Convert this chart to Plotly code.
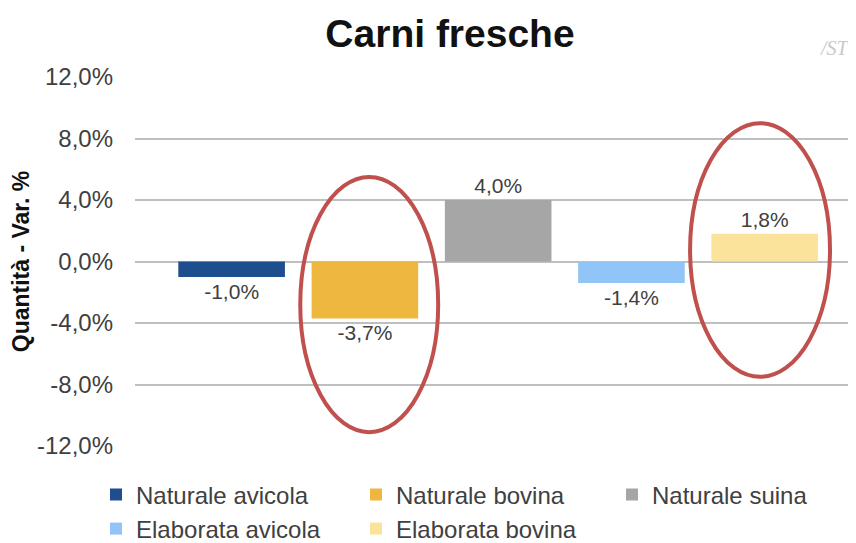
import plotly.graph_objects as go

series = ["Naturale avicola", "Naturale bovina", "Naturale suina", "Elaborata avicola", "Elaborata bovina"]
values = [-1.0, -3.7, 4.0, -1.4, 1.8]
colors = ["#1F4E8F", "#EEB840", "#A6A6A6", "#92C5F7", "#FBE39C"]
category = ["Carni fresche"]
y_ticks = [-12, -8, -4, 0, 4, 8, 12]
y_tick_labels = ["-12,0%", "-8,0%", "-4,0%", "0,0%", "4,0%", "8,0%", "12,0%"]
legend_ids = ["legend", "legend2", "legend3", "legend4", "legend5"]

FONT = "Liberation Sans, Arial, sans-serif"
W, H = 848, 535  # page body has an 8px margin in the 856x543 window

fig = go.Figure()
for name, v, c, lg in zip(series, values, colors, legend_ids):
    fig.add_trace(go.Bar(
        x=category, y=[v], name=name, legend=lg,
        marker=dict(color=c, line=dict(width=0)),
        text=[v], texttemplate="%{y:.1f}%", textposition="outside",
        textfont=dict(family=FONT, size=21, color="#404040"),
        cliponaxis=False,
    ))

# highlight ellipses (decorative)
ell = dict(type="circle", xref="x", yref="y", line=dict(color="#C0504D", width=4), layer="above")
fig.add_shape(**ell, x0=-0.297, x1=-0.090, y0=-11.1, y1=5.5)
fig.add_shape(**ell, x0=0.288, x1=0.498, y0=-7.5, y1=9.0)

leg_common = dict(orientation="h", xref="container", yref="container",
                  xanchor="left", yanchor="middle",
                  font=dict(family=FONT, size=24, color="#404040"),
                  itemwidth=30, bgcolor="rgba(0,0,0,0)")
col_x = [88, 348, 604]
row_y = [487, 521]
legend_layout = {}
for i, lg in enumerate(legend_ids):
    legend_layout[lg] = dict(**leg_common, x=col_x[i % 3] / W, y=1 - row_y[i // 3] / H)

fig.update_layout(
    width=W, height=H,
    paper_bgcolor="white", plot_bgcolor="white",
    separators=",.",
    barmode="group", bargap=0.0, bargroupgap=0.2,
    margin=dict(l=127, r=0, t=69, b=97, autoexpand=False),
    title=dict(text="<b>Carni fresche</b>", x=442 / W, xanchor="center", y=1 - 25 / H, yanchor="middle",
               font=dict(family=FONT, size=39, color="#111111")),
    font=dict(family=FONT, color="#404040"),
    showlegend=True,
    **legend_layout,
    xaxis=dict(range=[-0.545, 0.537], showticklabels=False, showgrid=False, zeroline=False,
               showline=False, ticks="", automargin=False),
    yaxis=dict(range=[-12, 12], tickvals=y_ticks, ticktext=y_tick_labels,
               showgrid=True, gridcolor="#BFBFBF", gridwidth=1.5,
               zeroline=True, zerolinecolor="#BFBFBF", zerolinewidth=1.5,
               showline=False, ticks="", ticklabelstandoff=21, automargin=False,
               tickfont=dict(family=FONT, size=24, color="#404040"),
               title=dict(text="<b>Quantità - Var. %</b>", standoff=10,
                          font=dict(family=FONT, size=23, color="#111111"))),
)

fig.add_annotation(text="<i>/ST</i>", xref="paper", yref="paper", x=0.995, y=1.079,
                   xanchor="right", yanchor="middle", showarrow=False,
                   font=dict(family="Liberation Serif, serif", size=20, color="#C8C8C8"))

fig.write_html("out.html")
